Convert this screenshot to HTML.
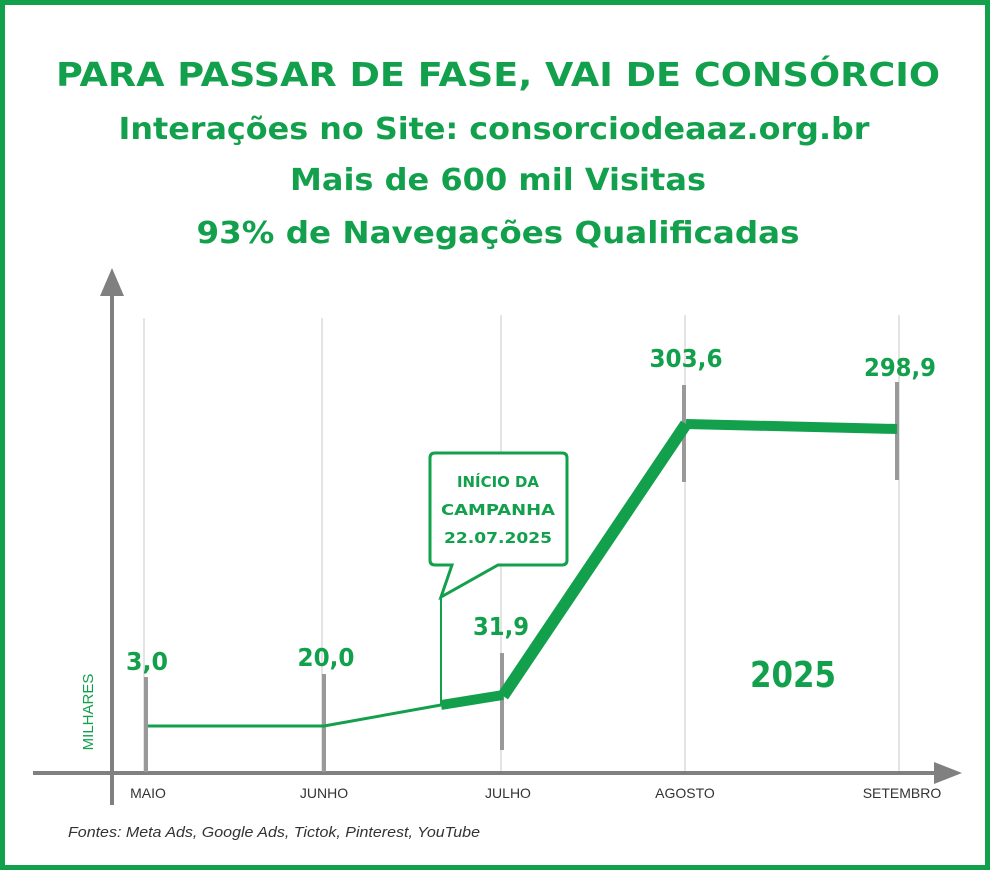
<!DOCTYPE html>
<html><head><meta charset="utf-8"><style>
html,body{margin:0;padding:0;background:#fff}
svg{display:block}
</style></head><body>
<svg width="990" height="870" viewBox="0 0 990 870" xmlns="http://www.w3.org/2000/svg">
<rect x="2.5" y="2.5" width="985" height="865" fill="#fff" stroke="#12a04c" stroke-width="5"/>
<g font-family="DejaVu Sans, Liberation Sans, sans-serif" font-weight="bold" fill="#12a04c" text-anchor="middle">
<text x="498" y="86" font-size="33" textLength="884" lengthAdjust="spacingAndGlyphs">PARA PASSAR DE FASE, VAI DE CONSÓRCIO</text>
<text x="494" y="139" font-size="30" textLength="751" lengthAdjust="spacingAndGlyphs">Interações no Site: consorciodeaaz.org.br</text>
<text x="498" y="190" font-size="30" textLength="416" lengthAdjust="spacingAndGlyphs">Mais de 600 mil Visitas</text>
<text x="498" y="243" font-size="30" textLength="603" lengthAdjust="spacingAndGlyphs">93% de Navegações Qualificadas</text>
</g>
<g stroke="#c8c8c8" stroke-width="1">
<line x1="144" y1="318" x2="144" y2="773"/>
<line x1="322" y1="318" x2="322" y2="773"/>
<line x1="501" y1="315" x2="501" y2="773"/>
<line x1="685" y1="315" x2="685" y2="773"/>
<line x1="899" y1="315" x2="899" y2="773"/>
</g>
<line x1="112" y1="290" x2="112" y2="805" stroke="#808080" stroke-width="4"/>
<polygon points="112,268 100,296 124,296" fill="#808080"/>
<line x1="33" y1="773" x2="940" y2="773" stroke="#808080" stroke-width="4"/>
<polygon points="962,773 934,762 934,784" fill="#808080"/>
<g stroke="#999" stroke-width="4">
<line x1="146" y1="677" x2="146" y2="772"/>
<line x1="324" y1="674" x2="324" y2="772"/>
<line x1="502" y1="653" x2="502" y2="750"/>
<line x1="684" y1="385" x2="684" y2="482"/>
<line x1="897" y1="382" x2="897" y2="480"/>
</g>
<g stroke="#12a04c" fill="none" stroke-linejoin="miter">
<polyline points="148,726 324,726 441,705" stroke-width="3"/>
<line x1="441" y1="705" x2="503" y2="695" stroke-width="10"/>
<line x1="503" y1="696" x2="686" y2="424" stroke-width="12"/>
<line x1="686" y1="424" x2="897" y2="429" stroke-width="10"/>
<line x1="441" y1="597" x2="441" y2="705" stroke-width="2"/>
<path d="M440,453 H562 Q567,453 567,458 V560 Q567,565 562,565 H498 L441,597 L452,565 H435 Q430,565 430,560 V458 Q430,453 435,453 Z" fill="#fff" stroke-width="3"/>
</g>
<g font-family="DejaVu Sans, Liberation Sans, sans-serif" font-weight="bold" fill="#12a04c" text-anchor="middle">
<text x="498" y="487" font-size="15" textLength="82" lengthAdjust="spacingAndGlyphs">INÍCIO DA</text>
<text x="498" y="515" font-size="15" textLength="114" lengthAdjust="spacingAndGlyphs">CAMPANHA</text>
<text x="498" y="543" font-size="15" textLength="108" lengthAdjust="spacingAndGlyphs">22.07.2025</text>
<text x="147" y="670" font-size="25" textLength="42" lengthAdjust="spacingAndGlyphs">3,0</text>
<text x="326" y="666" font-size="25" textLength="57" lengthAdjust="spacingAndGlyphs">20,0</text>
<text x="501" y="635" font-size="25" textLength="56" lengthAdjust="spacingAndGlyphs">31,9</text>
<text x="686" y="367" font-size="25" textLength="73" lengthAdjust="spacingAndGlyphs">303,6</text>
<text x="900" y="376" font-size="25" textLength="72" lengthAdjust="spacingAndGlyphs">298,9</text>
<text x="793" y="687" font-size="36" textLength="86" lengthAdjust="spacingAndGlyphs">2025</text>
</g>
<text transform="translate(93,712) rotate(-90)" font-family="Liberation Sans, sans-serif" font-size="15" fill="#12a04c" text-anchor="middle">MILHARES</text>
<g font-family="Liberation Sans, sans-serif" font-size="14" fill="#333" text-anchor="middle">
<text x="148" y="798">MAIO</text>
<text x="324" y="798">JUNHO</text>
<text x="508" y="798">JULHO</text>
<text x="685" y="798">AGOSTO</text>
<text x="902" y="798">SETEMBRO</text>
</g>
<text x="68" y="837" font-family="Liberation Sans, sans-serif" font-size="15" font-style="italic" fill="#333" textLength="412" lengthAdjust="spacingAndGlyphs">Fontes: Meta Ads, Google Ads, Tictok, Pinterest, YouTube</text>
</svg>
</body></html>
